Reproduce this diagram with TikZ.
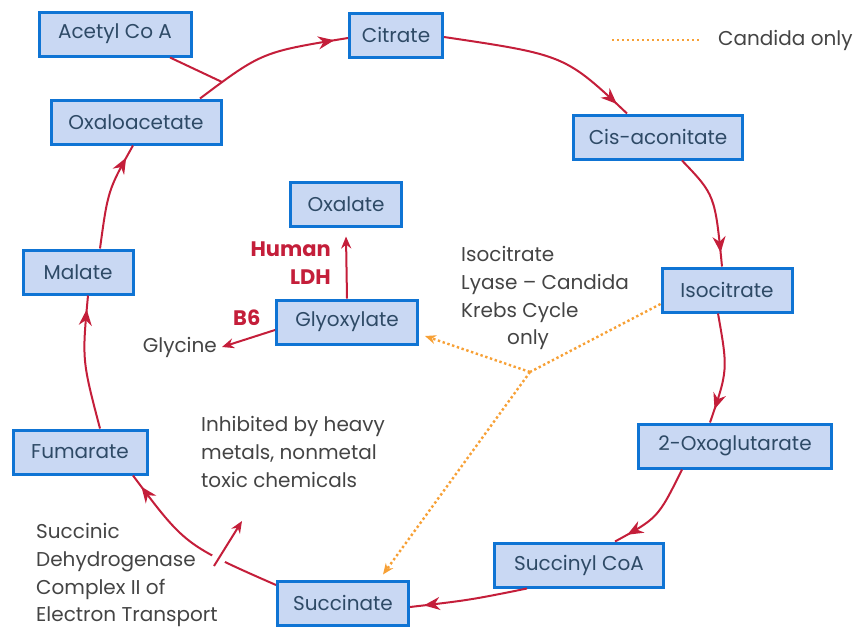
\documentclass[tikz,border=0pt]{standalone}
\usepackage{fontspec}
\setmainfont{Poppins}
\usetikzlibrary{arrows.meta,decorations.markings}
\definecolor{boxfill}{HTML}{C9D8F3}
\definecolor{boxline}{HTML}{0F74D4}
\definecolor{boxtext}{HTML}{2E4A66}
\definecolor{cycred}{HTML}{C41E3A}
\definecolor{orng}{HTML}{F7A035}
\definecolor{txt}{HTML}{444444}
\begin{document}
\begin{tikzpicture}[x=1pt,y=-1pt,
  font=\fontsize{20}{27.8}\selectfont,
  met/.style={draw=boxline, line width=3pt, fill=boxfill, text=boxtext,
    minimum height=44pt, inner sep=0pt},
  cyc/.style={draw=cycred, line width=2pt, postaction={decorate},
    decoration={markings, mark=at position -14pt with {\arrow{Stealth[length=16pt,width=13pt]}}}},
  redarr/.style={draw=cycred, line width=2pt, -{Stealth[length=12pt,width=10pt]}},
  orline/.style={draw=orng, line width=2.4pt, dash pattern=on 2.4pt off 2.6pt},
  orarr/.style={orline, -{Stealth[length=11pt,width=9pt]}},
  plain/.style={text=txt, inner sep=0pt, align=left},
  redlab/.style={text=cycred, font=\fontsize{21}{27.8}\selectfont\bfseries, inner sep=0pt, align=right}
]
\useasboundingbox (0,0) rectangle (859,630);

% metabolite boxes
\node[met, minimum width=152pt] (ac)   at (115,34)  {Acetyl Co A};
\node[met, minimum width=93pt]  (cit)  at (396,35)  {Citrate};
\node[met, minimum width=169pt] (cis)  at (658,137) {Cis-aconitate};
\node[met, minimum width=130pt] (iso)  at (727,290) {Isocitrate};
\node[met, minimum width=193pt] (oxo)  at (735,446) {2-Oxoglutarate};
\node[met, minimum width=169pt] (scoa) at (579,565) {Succinyl CoA};
\node[met, minimum width=131pt] (succ) at (343,603) {Succinate};
\node[met, minimum width=134pt] (fum)  at (80,452)  {Fumarate};
\node[met, minimum width=110pt] (mal)  at (78,272)  {Malate};
\node[met, minimum width=170pt] (oaa)  at (136,122) {Oxaloacetate};
\node[met, minimum width=111pt] (oxl)  at (346,204) {Oxalate};
\node[met, minimum width=141pt] (gly)  at (347,322) {Glyoxylate};

% cycle arrows
\draw[cyc] ([shift={(64,0)}]oaa.north) .. controls (262,52) .. ([shift={(0,3)}]cit.west);
\draw[cyc] ([shift={(0,2)}]cit.east) .. controls (565,55) .. ([shift={(-31,0)}]cis.north);
\draw[cyc] ([shift={(24,0)}]cis.south) .. controls (715,195) .. ([shift={(-5,0)}]iso.north);
\draw[cyc] ([shift={(-9,0)}]iso.south) .. controls (728,370) .. ([shift={(-25,0)}]oxo.north);
\draw[cyc] ([shift={(-53,0)}]oxo.south) .. controls (658,518) .. ([shift={(36,0)}]scoa.north);
\draw[cyc] ([shift={(-52,0)}]scoa.south) .. controls (470,600) .. ([shift={(0,4)}]succ.east);
\draw[cyc] ([shift={(0,-18)}]succ.west) .. controls (185,545) .. ([shift={(53,0)}]fum.south);
\draw[cyc] ([shift={(20,0)}]fum.north) .. controls (82,360) .. ([shift={(10,0)}]mal.south);
\draw[cyc] ([shift={(22,0)}]mal.north) .. controls (108,190) .. ([shift={(-3,0)}]oaa.south);

% acetyl CoA joins the arc
\coordinate (acj) at (222,82);
\draw[draw=cycred, line width=2pt] ([shift={(55,0)}]ac.south) -- (acj);

% inhibition arrow across the succinate -> fumarate arc
\coordinate (inhs) at (214,566);
\coordinate (inhe) at (242,521);
\draw[redarr, preaction={draw=white, line width=14pt, -}] (inhs) -- (inhe);

% glyoxylate branch
\node[plain, anchor=east] (glyc) at (217,347) {Glycine};
\draw[redarr] ([shift={(0,8)}]gly.west) -- ([shift={(5,0)}]glyc.east);
\draw[redarr] (gly.north) -- ([shift={(0,9)}]oxl.south);
\node[redlab, anchor=north east] (hldh) at (331,242) {Human\\LDH};
\node[redlab, anchor=west] (b6) at (233,318) {B6};

% Candida only paths
\coordinate (j) at (530,372);
\draw[orline] ([shift={(0,14)}]iso.west) -- (j);
\draw[orarr] (j) -- ([shift={(6,14)}]gly.east);
\draw[orarr] (j) -- ([shift={(40,-5)}]succ.north);

% legend
\coordinate (lg1) at (612,40);
\coordinate (lg2) at (700,40);
\draw[orline] (lg1) -- (lg2);
\node[plain, anchor=west] (lgt) at (718,40) {Candida only};

% annotations
\node[plain, anchor=north west] (lyase) at (461,246) {Isocitrate\\Lyase – Candida\\Krebs Cycle\\\hspace*{46pt}only};
\node[plain, anchor=north west] (inh) at (201,416) {Inhibited by heavy\\metals, nonmetal\\toxic chemicals};
\node[plain, anchor=north west] (sdh) at (36,523) {Succinic\\Dehydrogenase\\Complex II of\\Electron Transport};
\end{tikzpicture}
\end{document}
